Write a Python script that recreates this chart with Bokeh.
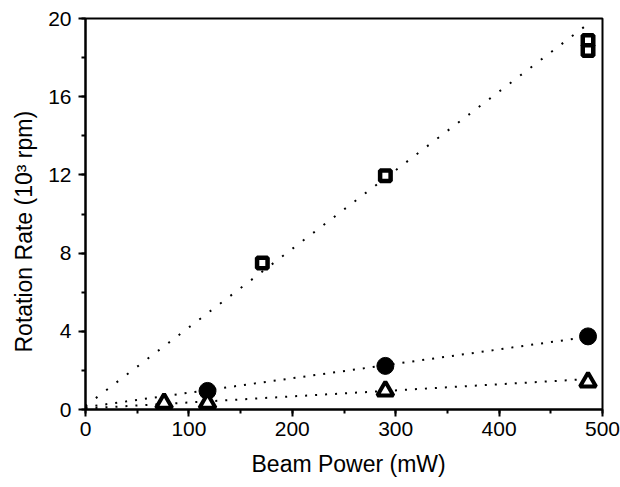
from bokeh.plotting import figure
from bokeh.models import Range1d, SingleIntervalTicker, Title
from bokeh.embed import file_html
from bokeh.resources import INLINE

# ---- data ----
sq_x = [171, 290, 486, 486]
sq_y = [7.5, 11.96, 18.87, 18.36]

ci_x = [118, 290, 486]
ci_y = [0.95, 2.23, 3.74]

tri_x = [76, 118, 290, 486]
tri_y = [0.32, 0.32, 0.95, 1.41]

fit_x = [0, 487]
sq_fit = [0.18, 19.76]
ci_fit = [0.12, 3.72]
tri_fit = [0.05, 1.56]

x_label = "Beam Power (mW)"
y_label = "Rotation Rate (10³ rpm)"

FONT = "Liberation Sans"

p = figure(width=620, height=487, output_backend="svg", toolbar_location=None,
           x_range=Range1d(0, 500), y_range=Range1d(0, 20),
           min_border_left=85, min_border_right=18, min_border_top=18,
           min_border_bottom=78)
p.xgrid.visible = False
p.ygrid.visible = False
p.background_fill_color = "white"
p.border_fill_color = "white"
p.outline_line_color = "black"
p.outline_line_width = 2
p.outline_line_alpha = 1.0

p.xaxis.ticker = SingleIntervalTicker(interval=100, num_minor_ticks=2)
p.yaxis.ticker = SingleIntervalTicker(interval=4, num_minor_ticks=2)

for ax in (p.xaxis[0], p.yaxis[0]):
    ax.axis_line_color = "black"
    ax.axis_line_width = 2
    ax.major_tick_line_color = "black"
    ax.minor_tick_line_color = "black"
    ax.major_tick_line_width = 2
    ax.minor_tick_line_width = 2
    ax.major_tick_out = 7
    ax.major_tick_in = 0
    ax.minor_tick_out = 4
    ax.minor_tick_in = 0
    ax.major_label_text_font = FONT
    ax.major_label_text_font_size = "21px"
    ax.major_label_text_color = "black"
p.xaxis[0].major_label_standoff = 5
p.yaxis[0].major_label_standoff = 7

# fit lines
p.line(fit_x, sq_fit, line_color="black", line_width=2, line_dash="2 11")
p.line(fit_x, ci_fit, line_color="black", line_width=2, line_dash="2 8")
p.line(fit_x, tri_fit, line_color="black", line_width=2, line_dash="2 8")

# markers
p.scatter(ci_x, ci_y, marker="circle", size=17, fill_color="black", line_color="black")
p.scatter(tri_x, tri_y, marker="triangle", size=16, fill_color="white",
          line_color="black", line_width=4)
p.scatter(sq_x, sq_y, marker="square", size=10.5, fill_color="white",
          line_color="black", line_width=4.5)

# axis titles
p.add_layout(Title(text=x_label, align="left", offset=166, standoff=20,
                   text_font=FONT, text_font_size="23px", text_line_height=0.8,
                   text_font_style="normal", text_color="black"), "below")
p.add_layout(Title(text=y_label, align="left", offset=57, standoff=17,
                   text_font=FONT, text_font_size="23px", text_line_height=0.8,
                   text_font_style="normal", text_color="black"), "left")

open("out.html", "w").write(file_html(p, INLINE))
